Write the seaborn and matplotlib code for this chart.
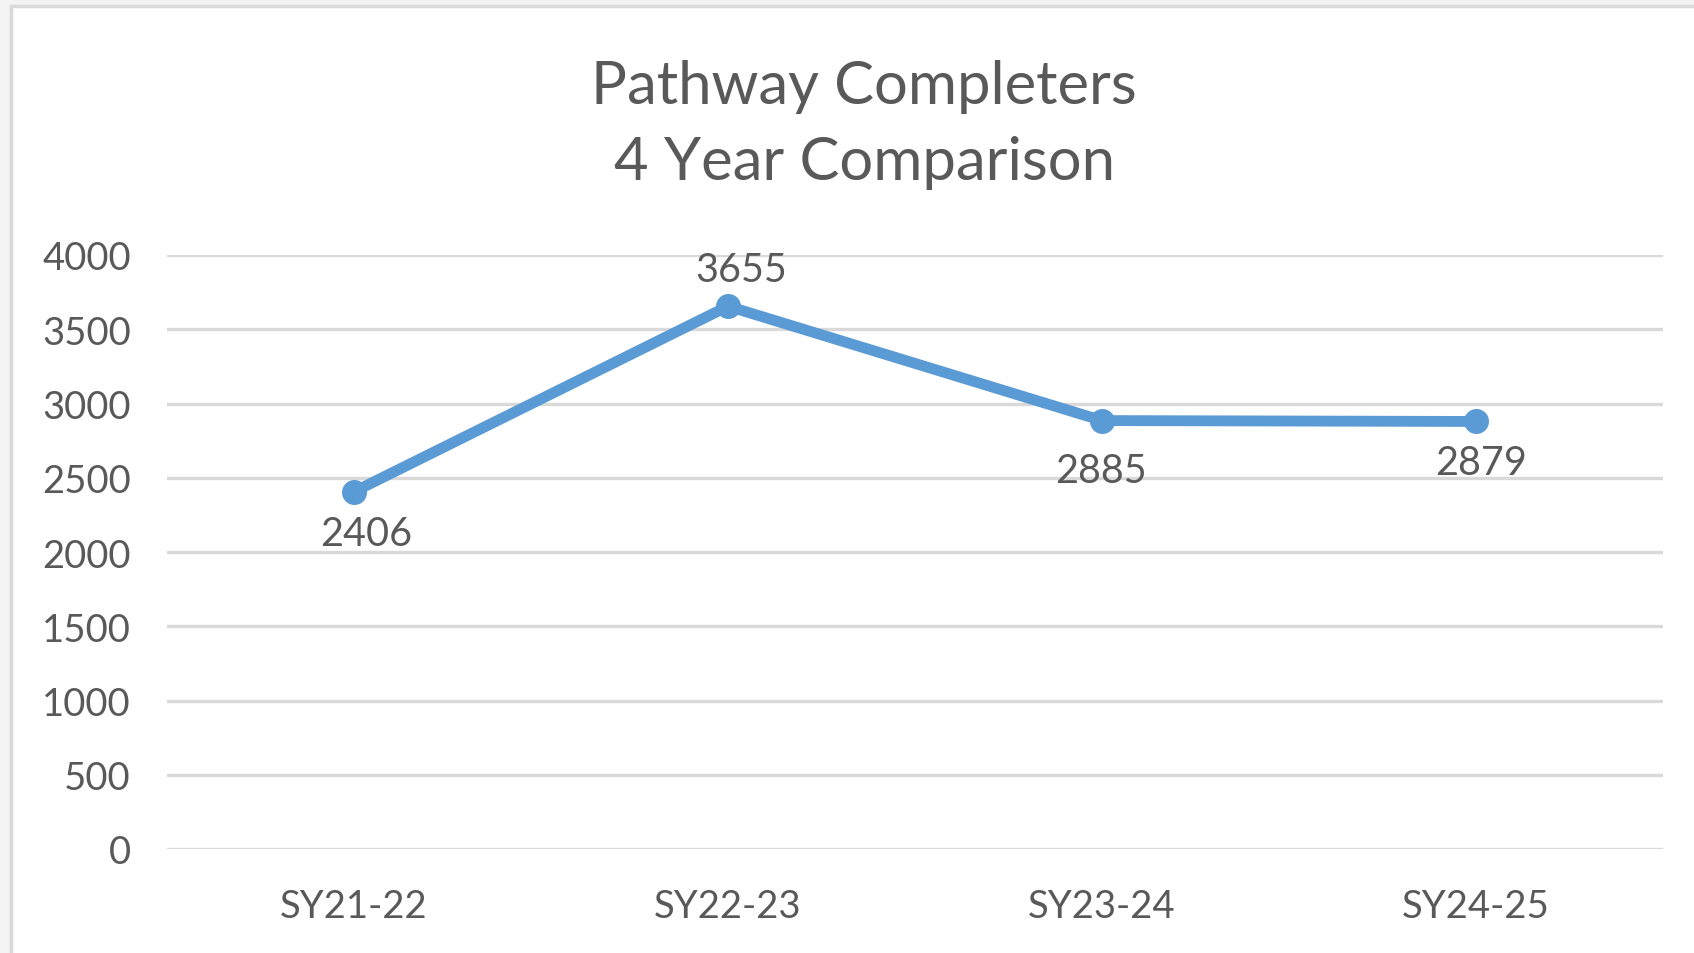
import matplotlib
matplotlib.use("Agg")
import matplotlib.pyplot as plt
from matplotlib.patches import Rectangle
import seaborn as sns
import pandas as pd

# Pathway completers per school year
school_years = ["SY21-22", "SY22-23", "SY23-24", "SY24-25"]
completers = [2406, 3655, 2885, 2879]
y_ticks = [0, 500, 1000, 1500, 2000, 2500, 3000, 3500, 4000]

title_text = "Pathway Completers\n4 Year Comparison"

# label placement (pixel offsets from each point)
label_offsets = [(12, -42), (13, 37), (-1, -50), (5, -41)]

sns.set_theme(style="white")
plt.rcParams["font.family"] = ["Lato", "DejaVu Sans"]

text_color = "#595959"
line_color = "#5B9BD5"
grid_color = "#D9D9D9"

W, H, DPI = 1694, 954, 100
fig = plt.figure(figsize=(W / DPI, H / DPI), dpi=DPI)
fig.patch.set_facecolor("#F3F3F3")

# white chart area with a light border
fig.add_artist(Rectangle((10.5 / W, -0.05), 1.1, (954 - 6.5) / H + 0.05,
                         transform=fig.transFigure, facecolor="white",
                         edgecolor="#DADADA", linewidth=2.5, zorder=0))

ax = fig.add_axes([167 / W, 1 - 850 / H, (1663 - 167) / W, (850 - 256) / H])
ax.set_facecolor("none")

df = pd.DataFrame({"year": school_years, "count": completers})
sns.lineplot(data=df, x="year", y="count", ax=ax, color=line_color,
             linewidth=7.8, marker="o", markersize=18, markeredgewidth=0,
             sort=False, zorder=3)

ax.set_xlim(-0.5, len(school_years) - 0.5)
ax.set_ylim(0, 4000)
ax.set_yticks(y_ticks)
ax.set_yticklabels([str(t) for t in y_ticks])
ax.set_xlabel("")
ax.set_ylabel("")
for s in ax.spines.values():
    s.set_visible(False)
ax.yaxis.grid(True, color=grid_color, linewidth=2.4)
ax.xaxis.grid(False)
ax.set_axisbelow(True)
ax.tick_params(axis="both", length=0, labelsize=27.5, labelcolor=text_color)
ax.tick_params(axis="y", pad=26)
ax.tick_params(axis="x", pad=28)

px = 72 / DPI
for i, (v, (dx, dy)) in enumerate(zip(completers, label_offsets)):
    ax.annotate(str(v), xy=(i, v), xytext=(dx * px, dy * px),
                textcoords="offset points", ha="center", va="center",
                fontsize=28.5, color=text_color)

fig.text(864 / W, 1 - 125 / H, title_text, ha="center", va="center",
         fontsize=43, color=text_color, linespacing=1.5)

fig.savefig("out.png", dpi=DPI, facecolor=fig.get_facecolor())
